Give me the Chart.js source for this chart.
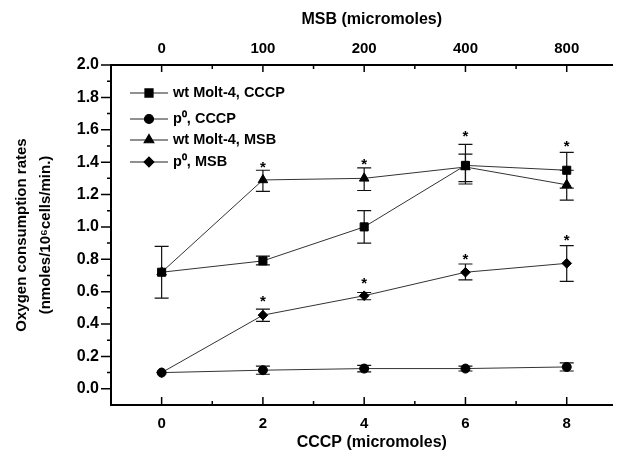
<!DOCTYPE html>
<html lang="en">
<head>
<meta charset="UTF-8">
<title>Oxygen consumption rates</title>
<style>
  html, body { margin: 0; padding: 0; background: #fff; }
  canvas { display: block; }
</style>
</head>
<body>
<canvas id="oxygenChart" width="619" height="452"></canvas>
<script src="https://cdn.jsdelivr.net/npm/chart.js"></script>
<script>
    // doses on the bottom (CCCP) axis, and the matching MSB doses on the top axis
    const cccpDoses = [0, 2, 4, 6, 8];
    const msbTickLabels = ['0', '100', '200', '400', '800'];
    const yTickValues = [0, 0.2, 0.4, 0.6, 0.8, 1.0, 1.2, 1.4, 1.6, 1.8, 2.0];

    const wtCCCP = [0.72, 0.79, 1.00, 1.38, 1.35];
    const wtCCCPLow = [0.56, 0.765, 0.90, 1.28, 1.24];
    const wtCCCPHigh = [0.88, 0.82, 1.10, 1.51, 1.46];

    const p0CCCP = [0.10, 0.115, 0.125, 0.125, 0.135];
    const p0CCCPLow = [null, 0.09, 0.105, 0.11, 0.11];
    const p0CCCPHigh = [null, 0.14, 0.145, 0.14, 0.16];

    const wtMSB = [0.72, 1.29, 1.30, 1.37, 1.26];
    const wtMSBLow = [null, 1.22, 1.225, 1.265, 1.165];
    const wtMSBHigh = [null, 1.35, 1.365, 1.45, 1.35];

    const p0MSB = [0.10, 0.455, 0.575, 0.72, 0.775];
    const p0MSBLow = [null, 0.417, 0.55, 0.673, 0.663];
    const p0MSBHigh = [null, 0.492, 0.595, 0.771, 0.884];

    // significance asterisks
    const starX = [2, 4, 6, 8, 2, 4, 6, 8];
    const starY = [1.39, 1.41, 1.58, 1.52, 0.56, 0.67, 0.82, 0.94];

    const font = '"Liberation Sans", Arial, Helvetica, sans-serif';
    Chart.defaults.font.family = font;
    Chart.defaults.font.weight = 'bold';
    Chart.defaults.font.size = 15;
    Chart.defaults.color = '#000';

    const pts = (xs, ys) => xs.map((x, i) => ({ x: x, y: ys[i] }));

    function series(label, values, low, high, style, radius) {
        return {
            label: label,
            data: pts(cccpDoses, values),
            errLow: low,
            errHigh: high,
            borderColor: '#333',
            borderWidth: 1,
            backgroundColor: '#000',
            pointStyle: style,
            pointRadius: radius,
            pointBorderColor: '#000',
            pointBorderWidth: 1,
            pointBackgroundColor: '#000',
            tension: 0
        };
    }

    const errorBars = {
        id: 'errorBars',
        beforeDatasetsDraw(chart) {
            const { ctx, scales: { x, y } } = chart;
            ctx.save();
            ctx.strokeStyle = '#111';
            ctx.lineWidth = 1.2;
            chart.data.datasets.forEach(ds => {
                if (!ds.errLow) return;
                ds.data.forEach((p, i) => {
                    if (ds.errLow[i] == null) return;
                    const px = x.getPixelForValue(p.x);
                    const lo = y.getPixelForValue(ds.errLow[i]);
                    const hi = y.getPixelForValue(ds.errHigh[i]);
                    ctx.beginPath();
                    ctx.moveTo(px, lo); ctx.lineTo(px, hi);
                    ctx.moveTo(px - 7, lo); ctx.lineTo(px + 7, lo);
                    ctx.moveTo(px - 7, hi); ctx.lineTo(px + 7, hi);
                    ctx.stroke();
                });
            });
            ctx.restore();
        }
    };

    // minor/major ticks (inward on x, outward on y) and the two x titles,
    // which sit off-centre because the original axes run on past the right edge
    const axisTicks = {
        id: 'axisTicks',
        afterDraw(chart) {
            const { ctx, chartArea: a, scales: { x, y } } = chart;
            ctx.save();
            ctx.strokeStyle = '#000';
            ctx.lineWidth = 1.5;
            ctx.beginPath();
            yTickValues.forEach((v, i) => {
                const py = y.getPixelForValue(v);
                ctx.moveTo(a.left - 10, py); ctx.lineTo(a.left, py);
                if (i < yTickValues.length - 1) {
                    const pm = y.getPixelForValue((v + yTickValues[i + 1]) / 2);
                    ctx.moveTo(a.left - 4, pm); ctx.lineTo(a.left, pm);
                }
            });
            cccpDoses.forEach((v, i) => {
                const px = x.getPixelForValue(v);
                ctx.moveTo(px, a.bottom); ctx.lineTo(px, a.bottom - 8);
                ctx.moveTo(px, a.top); ctx.lineTo(px, a.top + 7);
                if (i < cccpDoses.length - 1) {
                    const pm = x.getPixelForValue((v + cccpDoses[i + 1]) / 2);
                    ctx.moveTo(pm, a.bottom); ctx.lineTo(pm, a.bottom - 4);
                    ctx.moveTo(pm, a.top); ctx.lineTo(pm, a.top + 4);
                }
            });
            ctx.stroke();

            ctx.fillStyle = '#000';
            ctx.font = 'bold 16px ' + font;
            ctx.textAlign = 'center';
            ctx.textBaseline = 'middle';
            const cx = x.getPixelForValue(4.15);
            ctx.fillText('MSB (micromoles)', cx, 20);
            ctx.fillText('CCCP (micromoles)', cx, 443);

            ctx.font = 'bold 15px ' + font;
            ctx.textBaseline = 'alphabetic';
            starX.forEach((sx, i) => {
                ctx.fillText('*', x.getPixelForValue(sx), y.getPixelForValue(starY[i]) + 8);
            });
            ctx.restore();
        }
    };

    const insideLegend = {
        id: 'insideLegend',
        afterDraw(chart) {
            const { ctx } = chart;
            const rows = [93, 119, 140, 162];
            ctx.save();
            chart.data.datasets.forEach((ds, i) => {
                const yy = rows[i];
                ctx.strokeStyle = '#222';
                ctx.lineWidth = 1.2;
                ctx.beginPath();
                ctx.moveTo(130, yy); ctx.lineTo(168, yy);
                ctx.stroke();
                ctx.fillStyle = '#000';
                ctx.strokeStyle = '#000';
                Chart.helpers.drawPoint(ctx, {
                    pointStyle: ds.pointStyle, radius: ds.pointRadius, rotation: 0, borderWidth: 1
                }, 149, yy);
                ctx.font = 'bold 14.5px ' + font;
                ctx.textBaseline = 'middle';
                ctx.textAlign = 'left';
                ctx.fillText(ds.label, 173, yy);
            });
            ctx.restore();
        }
    };

    const ctx = document.getElementById('oxygenChart').getContext('2d');
    const oxygenChart = new Chart(ctx, {
        type: 'line',
        data: {
            datasets: [
                series('wt Molt-4, CCCP', wtCCCP, wtCCCPLow, wtCCCPHigh, 'rect', 5.7),
                series('p⁰, CCCP', p0CCCP, p0CCCPLow, p0CCCPHigh, 'circle', 4.5),
                series('wt Molt-4, MSB', wtMSB, wtMSBLow, wtMSBHigh, 'triangle', 5.5),
                series('p⁰, MSB', p0MSB, p0MSBLow, p0MSBHigh, 'rectRot', 4.8)
            ]
        },
        options: {
            responsive: false,
            animation: false,
            layout: { padding: 0 },
            plugins: { legend: { display: false }, tooltip: { enabled: false } },
            scales: {
                x: {
                    type: 'linear',
                    position: 'bottom',
                    min: -1,
                    max: 8.9,
                    afterFit: s => { s.height = 47; },
                    afterBuildTicks: s => { s.ticks = cccpDoses.map(v => ({ value: v })); },
                    grid: { display: false, drawTicks: false },
                    border: { display: true, color: '#000', width: 2 },
                    ticks: { padding: 10, maxRotation: 0 },
                    title: { display: false }
                },
                xTop: {
                    type: 'linear',
                    position: 'top',
                    min: -1,
                    max: 8.9,
                    afterFit: s => { s.height = 65; },
                    afterBuildTicks: s => { s.ticks = cccpDoses.map(v => ({ value: v })); },
                    grid: { display: false, drawTicks: false },
                    border: { display: true, color: '#000', width: 2 },
                    ticks: {
                        padding: 7,
                        maxRotation: 0,
                        callback: v => msbTickLabels[cccpDoses.indexOf(v)]
                    },
                    title: { display: false }
                },
                y: {
                    min: -0.1,
                    max: 2.0,
                    afterFit: s => { s.width = 111; },
                    afterBuildTicks: s => { s.ticks = yTickValues.map(v => ({ value: v })); },
                    grid: { display: false, drawTicks: false },
                    border: { display: true, color: '#000', width: 2 },
                    ticks: { padding: 12, font: { size: 16, weight: 'bold' }, callback: v => v.toFixed(1) },
                    title: {
                        display: true,
                        text: ['Oxygen consumption rates', '(nmoles/10⁶cells/min.)'],
                        font: { size: 15, weight: 'bold', lineHeight: 1.6 },
                        padding: { top: 10, bottom: 0 }
                    }
                }
            }
        },
        plugins: [errorBars, axisTicks, insideLegend]
    });
</script>
</body>
</html>
